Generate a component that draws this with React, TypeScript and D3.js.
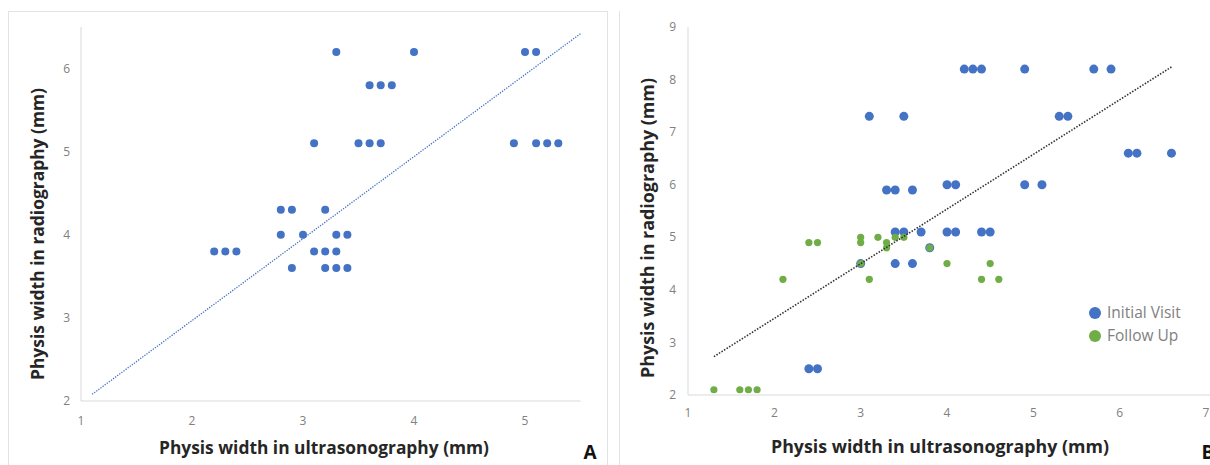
import * as d3 from "d3";

// Panel A: ultrasonography vs radiography (mm)
const aUltra = [3.3, 4.0, 5.0, 5.1, 3.6, 3.7, 3.8, 3.1, 3.5, 3.6, 3.7, 4.9, 5.1, 5.2, 5.3, 2.8, 2.9, 3.2, 2.8, 3.0, 3.3, 3.4, 2.2, 2.3, 2.4, 3.1, 3.2, 3.3, 2.9, 3.2, 3.3, 3.4];
const aRadio = [6.2, 6.2, 6.2, 6.2, 5.8, 5.8, 5.8, 5.1, 5.1, 5.1, 5.1, 5.1, 5.1, 5.1, 5.1, 4.3, 4.3, 4.3, 4.0, 4.0, 4.0, 4.0, 3.8, 3.8, 3.8, 3.8, 3.8, 3.8, 3.6, 3.6, 3.6, 3.6];
const aTrendX = [1.1, 5.5];
const aTrendY = [2.08, 6.42];
const aXTicks = [1, 2, 3, 4, 5];
const aYTicks = [2, 3, 4, 5, 6];

// Panel B: initial visit and follow up
const bInitUltra = [4.2, 4.3, 4.4, 4.9, 5.7, 5.9, 3.1, 3.5, 5.3, 5.4, 6.1, 6.2, 6.6, 4.0, 4.1, 4.9, 5.1, 3.3, 3.4, 3.6, 3.4, 3.5, 3.7, 4.0, 4.1, 4.4, 4.5, 3.8, 3.0, 3.4, 3.6, 2.4, 2.5];
const bInitRadio = [8.2, 8.2, 8.2, 8.2, 8.2, 8.2, 7.3, 7.3, 7.3, 7.3, 6.6, 6.6, 6.6, 6.0, 6.0, 6.0, 6.0, 5.9, 5.9, 5.9, 5.1, 5.1, 5.1, 5.1, 5.1, 5.1, 5.1, 4.8, 4.5, 4.5, 4.5, 2.5, 2.5];
const bFollowUltra = [1.3, 1.6, 1.7, 1.8, 2.1, 3.1, 4.4, 4.6, 3.0, 4.0, 4.5, 2.4, 2.5, 3.0, 3.3, 3.0, 3.2, 3.4, 3.5, 3.3, 3.8];
const bFollowRadio = [2.1, 2.1, 2.1, 2.1, 4.2, 4.2, 4.2, 4.2, 4.5, 4.5, 4.5, 4.9, 4.9, 4.9, 4.9, 5.0, 5.0, 5.0, 5.0, 4.8, 4.8];
const bTrendX = [1.3, 6.6];
const bTrendY = [2.73, 8.24];
const bXTicks = [1, 2, 3, 4, 5, 6, 7];
const bYTicks = [2, 3, 4, 5, 6, 7, 8, 9];
const legendLabels = ["Initial Visit", "Follow Up"];

const BLUE = "#4472c4";
const GREEN = "#70ad47";
const AXIS = "#d9d9d9";
const TICK = "#808080";
const TITLE = "#262626";
const FONT = "'Open Sans', 'Liberation Sans', sans-serif";

export default function App() {
  const ax = d3.scaleLinear().domain([1, 5.5]).range([81, 580.5]);
  const ay = d3.scaleLinear().domain([2, 6.5]).range([401, 27]);
  const bx = d3.scaleLinear().domain([1, 7]).range([688, 1206]);
  const by = d3.scaleLinear().domain([2, 9]).range([395, 27]);

  const aTrend = d3.line<number>().x((d) => ax(d)).y((_, i) => ay(aTrendY[i]))(aTrendX);
  const bTrend = d3.line<number>().x((d) => bx(d)).y((_, i) => by(bTrendY[i]))(bTrendX);

  return (
    <div style={{ position: "fixed", left: 0, top: 0 }}>
      <svg width={1210} height={465} style={{ display: "block", background: "#fff" }} fontFamily={FONT}>
        {/* frames */}
        <rect x={8.5} y={11.5} width={599} height={470} fill="none" stroke="#e3e3e3" />
        <line x1={619.5} x2={619.5} y1={11} y2={465} stroke="#e3e3e3" />

        {/* ---- panel A ---- */}
        <line x1={ax(1)} x2={ax(1)} y1={ay(6.5)} y2={ay(2)} stroke={AXIS} />
        <line x1={ax(1)} x2={ax(5.5)} y1={ay(2)} y2={ay(2)} stroke={AXIS} />
        {aYTicks.map((t) => (
          <text key={t} x={70} y={ay(t)} dy="0.35em" textAnchor="end" fontSize={12} fill={TICK}>{t}</text>
        ))}
        {aXTicks.map((t) => (
          <text key={t} x={ax(t)} y={421} dy="0.35em" textAnchor="middle" fontSize={12} fill={TICK}>{t}</text>
        ))}
        {aUltra.map((u, i) => (
          <circle key={i} cx={ax(u)} cy={ay(aRadio[i])} r={4} fill={BLUE} />
        ))}
        <path d={aTrend ?? ""} fill="none" stroke={BLUE} strokeWidth={1.3} strokeDasharray="1.3 1.3" />
        <text x={324} y={448} dy="0.35em" textAnchor="middle" fontSize={17} fontWeight="bold" fill={TITLE}
          textLength={330} lengthAdjust="spacingAndGlyphs">Physis width in ultrasonography (mm)</text>
        <text transform="translate(38,234) rotate(-90)" dy="0.35em" textAnchor="middle" fontSize={17} fontWeight="bold" fill={TITLE}
          textLength={292} lengthAdjust="spacingAndGlyphs">Physis width in radiography (mm)</text>
        <text x={590} y={452} dy="0.35em" textAnchor="middle" fontSize={19} fontWeight="bold" fill="#111">A</text>

        {/* ---- panel B ---- */}
        <line x1={bx(1)} x2={bx(1)} y1={by(9)} y2={by(2)} stroke={AXIS} />
        <line x1={bx(1)} x2={1210} y1={by(2)} y2={by(2)} stroke={AXIS} />
        {bYTicks.map((t) => (
          <text key={t} x={676} y={by(t)} dy="0.35em" textAnchor="end" fontSize={12} fill={TICK}>{t}</text>
        ))}
        {bXTicks.map((t) => (
          <text key={t} x={bx(t)} y={413} dy="0.35em" textAnchor="middle" fontSize={12} fill={TICK}>{t}</text>
        ))}
        {bInitUltra.map((u, i) => (
          <circle key={i} cx={bx(u)} cy={by(bInitRadio[i])} r={4.5} fill={BLUE} />
        ))}
        {bFollowUltra.map((u, i) => (
          <circle key={i} cx={bx(u)} cy={by(bFollowRadio[i])} r={3.6} fill={GREEN} />
        ))}
        <path d={bTrend ?? ""} fill="none" stroke="#333" strokeWidth={1.6} strokeDasharray="1.5 1.5" />
        <text x={940} y={447} dy="0.35em" textAnchor="middle" fontSize={17} fontWeight="bold" fill={TITLE}
          textLength={338} lengthAdjust="spacingAndGlyphs">Physis width in ultrasonography (mm)</text>
        <text transform="translate(648,228) rotate(-90)" dy="0.35em" textAnchor="middle" fontSize={17} fontWeight="bold" fill={TITLE}
          textLength={300} lengthAdjust="spacingAndGlyphs">Physis width in radiography (mm)</text>
        <text x={1208} y={452} dy="0.35em" textAnchor="middle" fontSize={19} fontWeight="bold" fill="#111">B</text>

        {/* legend */}
        {legendLabels.map((l, i) => (
          <g key={l} transform={`translate(1095,${313 + i * 23})`}>
            <circle r={6} fill={i === 0 ? BLUE : GREEN} />
            <text x={12} dy="0.35em" fontSize={15.5} fill="#7f7f7f">{l}</text>
          </g>
        ))}
      </svg>
    </div>
  );
}
